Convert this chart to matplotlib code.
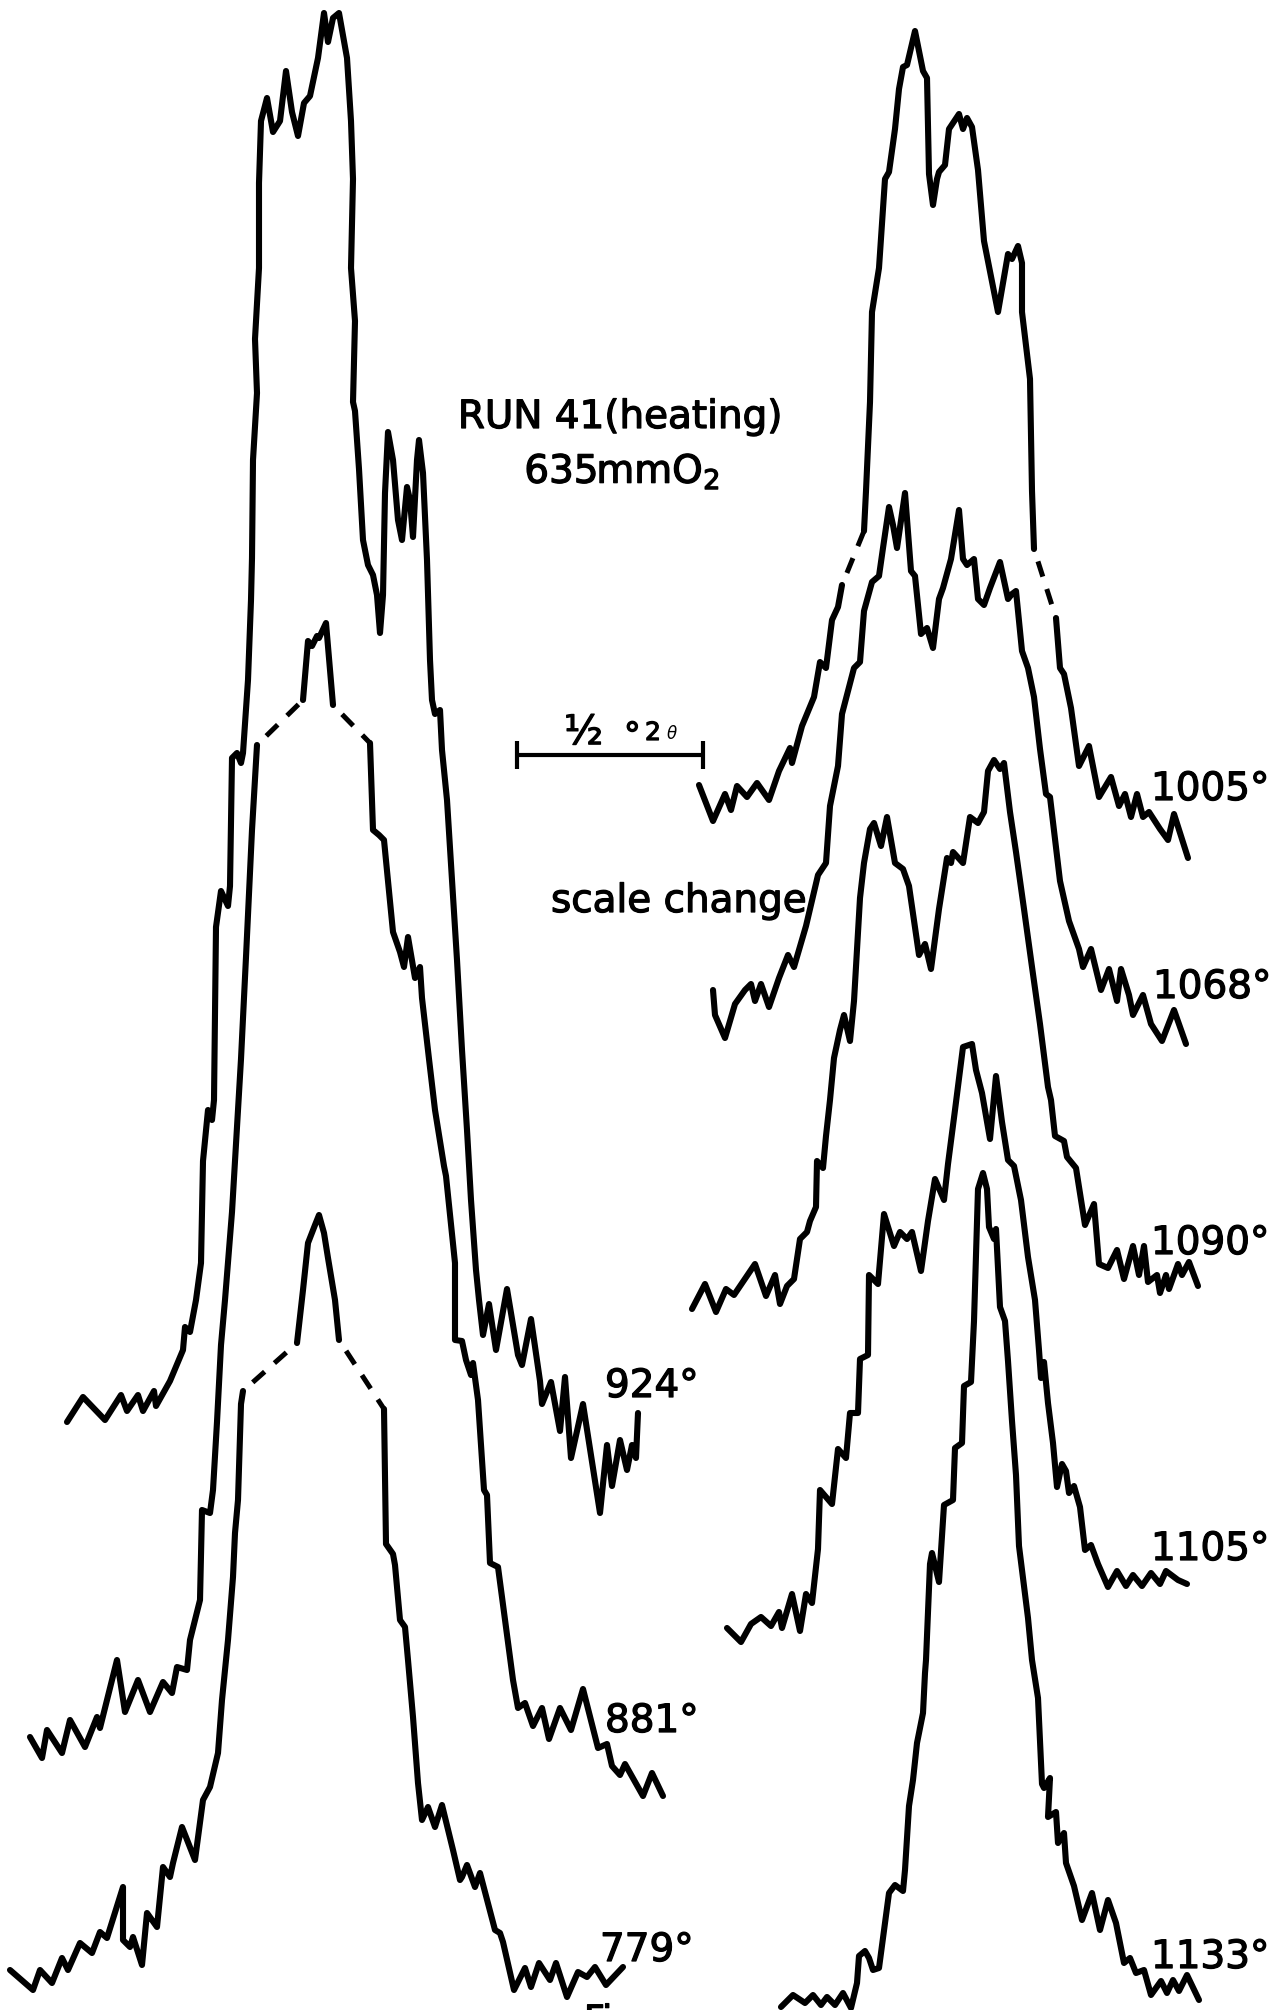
import matplotlib
matplotlib.use("Agg")
import matplotlib.pyplot as plt
import matplotlib.patheffects as pe

plt.rcParams['font.family'] = ['DejaVu Sans']
plt.rcParams['mathtext.fontset'] = 'dejavusans'

# recorder traces: x across the page, y down the page
# left column
x_924 = [67, 83, 105, 121, 127, 138, 143, 154, 156, 170, 183, 185, 190, 196, 201, 203, 208, 212, 214, 216,
         221, 228, 230, 232, 237, 241, 243, 248, 251, 252, 253, 257, 255, 259, 259, 261, 267, 273, 280, 286,
         292, 298, 304, 310, 318, 324, 328, 333, 339, 347, 351, 353, 351, 355, 353, 355, 359, 363, 368, 373,
         377, 380, 383, 385, 388, 393, 398, 402, 407, 410, 413, 417, 419, 423, 427, 430, 432, 435, 440, 442,
         447, 452, 457, 462, 467, 471, 476, 479, 483, 489, 496, 507, 518, 522, 531, 540, 542, 551, 560, 565,
         571, 583, 600, 607, 612, 620, 627, 632, 636, 638]
y_924 = [1422, 1397, 1420, 1395, 1411, 1395, 1411, 1391, 1406, 1381, 1350, 1327, 1332, 1300, 1263, 1161, 1110, 1120, 1100, 927,
         891, 906, 886, 758, 753, 763, 753, 680, 600, 558, 460, 393, 339, 268, 183, 121, 98, 132, 121, 71,
         112, 136, 103, 96, 58, 13, 42, 18, 13, 58, 121, 179, 268, 321, 402, 411, 469, 540, 565, 575,
         595, 633, 595, 493, 432, 460, 520, 540, 487, 500, 537, 460, 440, 473, 560, 660, 700, 714, 710, 750,
         800, 880, 960, 1050, 1130, 1200, 1270, 1300, 1335, 1304, 1350, 1289, 1355, 1365, 1319, 1381, 1404, 1382, 1431, 1377,
         1458, 1404, 1513, 1445, 1486, 1440, 1470, 1445, 1458, 1413]

x_881_l = [30, 42, 47, 62, 70, 85, 97, 100, 117, 125, 138, 150, 163, 172, 177, 187, 190, 200, 202, 210,
           213, 217, 221, 225, 232, 241, 246, 252, 257]
y_881_l = [1737, 1758, 1730, 1753, 1720, 1747, 1717, 1728, 1660, 1712, 1680, 1712, 1682, 1693, 1667, 1670, 1640, 1600, 1510, 1513,
           1490, 1422, 1345, 1300, 1212, 1059, 957, 830, 745]
x_881_top = [303, 308, 312, 317, 319, 326, 333]
y_881_top = [700, 641, 646, 636, 638, 623, 705]
x_881_r = [370, 373, 379, 384, 388, 393, 400, 404, 408, 415, 420, 422, 429, 435, 444, 446, 455, 455, 462, 466,
           471, 473, 478, 484, 487, 490, 498, 513, 518, 525, 533, 542, 549, 560, 571, 583, 598, 607, 612, 620,
           625, 643, 652, 663]
y_881_r = [743, 830, 835, 840, 881, 932, 952, 967, 937, 978, 967, 998, 1059, 1110, 1166, 1176, 1263, 1340, 1341, 1360,
           1375, 1363, 1400, 1490, 1495, 1563, 1567, 1680, 1708, 1703, 1726, 1708, 1739, 1708, 1730, 1689, 1748, 1744, 1766, 1775,
           1764, 1796, 1773, 1796]

x_779_l = [10, 33, 40, 52, 62, 68, 80, 92, 100, 107, 123, 123, 130, 133, 142, 147, 152, 157, 163, 170,
           173, 182, 195, 203, 210, 218, 222, 228, 233, 235, 238, 241, 243]
y_779_l = [1970, 1990, 1970, 1983, 1958, 1970, 1943, 1953, 1932, 1938, 1887, 1940, 1947, 1937, 1965, 1913, 1920, 1927, 1867, 1877,
           1863, 1827, 1860, 1800, 1787, 1753, 1700, 1640, 1577, 1533, 1500, 1404, 1391]
x_779_top = [297, 303, 308, 315, 319, 324, 328, 335, 339]
y_779_top = [1343, 1290, 1243, 1225, 1215, 1233, 1258, 1300, 1340]
x_779_r = [384, 386, 393, 395, 400, 405, 408, 413, 418, 422, 428, 435, 442, 453, 460, 462, 467, 475, 480, 495,
           500, 503, 514, 525, 531, 539, 550, 556, 567, 578, 587, 595, 606, 623]
y_779_r = [1409, 1544, 1554, 1565, 1620, 1627, 1660, 1717, 1783, 1820, 1807, 1827, 1805, 1850, 1880, 1877, 1865, 1887, 1873, 1930,
           1933, 1942, 1990, 1968, 1987, 1963, 1980, 1963, 1997, 1972, 1977, 1967, 1985, 1967]

# right column
x_1005_l = [699, 713, 725, 731, 737, 747, 757, 769, 779, 790, 792, 802, 814, 820, 826, 832, 838, 842]
y_1005_l = [785, 821, 794, 810, 786, 797, 783, 800, 771, 748, 763, 726, 697, 662, 668, 620, 607, 585]
x_1005_top = [864, 866, 870, 872, 879, 885, 889, 895, 899, 903, 907, 915, 923, 927, 929, 933, 937, 939, 945, 949,
              959, 963, 967, 972, 978, 984, 998, 1008, 1012, 1018, 1022, 1022, 1030, 1032, 1034]
y_1005_top = [531, 491, 402, 312, 268, 179, 172, 129, 89, 67, 65, 31, 71, 78, 174, 205, 179, 172, 165, 129,
              114, 129, 118, 127, 170, 241, 312, 254, 259, 246, 263, 312, 379, 491, 549]
x_1005_r = [1056, 1060, 1064, 1071, 1079, 1089, 1099, 1111, 1119, 1125, 1131, 1137, 1143, 1149, 1160, 1168, 1174, 1188]
y_1005_r = [618, 668, 674, 708, 766, 746, 797, 777, 806, 794, 817, 794, 817, 812, 829, 840, 814, 858]

x_1068 = [713, 715, 725, 735, 745, 751, 755, 761, 769, 779, 788, 794, 806, 818, 826, 830, 838, 842, 848, 854,
          860, 864, 872, 879, 883, 889, 893, 897, 905, 911, 915, 921, 927, 933, 939, 943, 951, 959, 963, 967,
          974, 978, 984, 990, 1000, 1008, 1012, 1016, 1022, 1028, 1034, 1040, 1046, 1050, 1060, 1069, 1079, 1083, 1091, 1101,
          1109, 1117, 1121, 1129, 1133, 1143, 1151, 1162, 1174, 1186]
y_1068 = [990, 1015, 1038, 1004, 990, 984, 1001, 984, 1007, 978, 955, 967, 926, 875, 863, 806, 766, 714, 691, 668,
          662, 611, 582, 576, 548, 507, 525, 548, 493, 571, 576, 634, 628, 648, 599, 588, 559, 510, 559, 565,
          559, 599, 605, 588, 562, 599, 594, 591, 651, 668, 697, 749, 794, 797, 881, 921, 949, 967, 949, 990,
          969, 1001, 969, 995, 1015, 995, 1024, 1041, 1010, 1044]

x_1090 = [692, 705, 716, 726, 734, 755, 766, 775, 780, 787, 794, 800, 807, 810, 816, 817, 823, 826, 830, 834,
          840, 844, 850, 854, 860, 864, 870, 874, 881, 887, 895, 903, 909, 919, 925, 931, 939, 947, 951, 953,
          963, 970, 978, 984, 988, 994, 1000, 1004, 1010, 1016, 1024, 1032, 1040, 1048, 1051, 1055, 1064, 1067, 1076, 1085,
          1094, 1099, 1108, 1117, 1124, 1133, 1139, 1144, 1148, 1157, 1160, 1166, 1169, 1178, 1182, 1189, 1198]
y_1090 = [1309, 1284, 1312, 1289, 1295, 1264, 1296, 1275, 1304, 1286, 1279, 1239, 1232, 1221, 1207, 1161, 1168, 1136, 1100, 1058,
          1030, 1015, 1041, 1001, 898, 863, 829, 823, 846, 817, 863, 869, 886, 955, 944, 969, 909, 858, 863, 852,
          863, 817, 823, 812, 771, 760, 769, 763, 812, 852, 909, 967, 1024, 1087, 1100, 1136, 1141, 1157, 1168, 1225,
          1204, 1264, 1268, 1250, 1279, 1246, 1275, 1246, 1282, 1275, 1293, 1275, 1289, 1264, 1275, 1262, 1286]

x_1105 = [727, 741, 751, 761, 771, 779, 782, 792, 800, 806, 812, 818, 820, 832, 838, 846, 850, 858, 860, 868,
          869, 878, 884, 894, 900, 907, 912, 921, 928, 935, 944, 948, 955, 963, 972, 976, 982, 990, 996, 1002,
          1008, 1014, 1021, 1028, 1035, 1039, 1041, 1044, 1048, 1053, 1057, 1062, 1066, 1069, 1074, 1080, 1085, 1091, 1098, 1108,
          1117, 1126, 1133, 1142, 1151, 1160, 1166, 1178, 1187]
y_1105 = [1628, 1642, 1624, 1617, 1626, 1612, 1628, 1594, 1631, 1594, 1603, 1549, 1490, 1504, 1449, 1458, 1413, 1413, 1359, 1355,
          1275, 1284, 1214, 1246, 1232, 1239, 1232, 1271, 1221, 1179, 1200, 1164, 1110, 1047, 1044, 1070, 1093, 1139, 1076, 1122,
          1160, 1166, 1200, 1257, 1300, 1350, 1378, 1362, 1403, 1443, 1487, 1464, 1471, 1493, 1486, 1507, 1550, 1545, 1564, 1587,
          1571, 1586, 1575, 1586, 1573, 1584, 1571, 1580, 1584]

x_1133 = [781, 793, 805, 813, 821, 827, 835, 843, 851, 857, 859, 865, 869, 873, 879, 885, 889, 895, 903, 905,
          909, 913, 917, 923, 925, 926, 930, 932, 939, 944, 953, 955, 962, 964, 971, 974, 978, 983, 987, 989,
          994, 996, 1000, 1005, 1008, 1012, 1016, 1019, 1028, 1032, 1038, 1042, 1044, 1050, 1048, 1056, 1058, 1064, 1066, 1074,
          1082, 1092, 1100, 1108, 1116, 1124, 1130, 1136, 1144, 1151, 1161, 1167, 1173, 1179, 1187, 1199]
y_1133 = [2007, 1995, 2003, 1995, 2005, 1997, 2005, 1993, 2008, 1983, 1956, 1951, 1958, 1970, 1968, 1923, 1893, 1885, 1891, 1870,
          1806, 1780, 1743, 1713, 1673, 1660, 1564, 1553, 1582, 1505, 1500, 1448, 1443, 1386, 1382, 1321, 1189, 1173, 1189, 1227,
          1239, 1229, 1307, 1321, 1361, 1421, 1475, 1546, 1618, 1660, 1698, 1784, 1788, 1778, 1817, 1812, 1843, 1833, 1863, 1886,
          1920, 1893, 1930, 1900, 1923, 1963, 1958, 1973, 1970, 1995, 1981, 1993, 1980, 1991, 1975, 2000]

temps = ['924°', '881°', '779°', '1005°', '1068°', '1090°', '1105°', '1133°']

fig = plt.figure(figsize=(12.74, 20.10), dpi=100, facecolor='white')
ax = fig.add_axes([0, 0, 1, 1])
ax.set_xlim(0, 1274)
ax.set_ylim(2010, 0)
ax.axis('off')

LW = 4.4
# lettering was inked a little heavier than the regular face
ink = [pe.withStroke(linewidth=0.9, foreground='black')]


def trace(xs, ys):
    ax.plot(xs, ys, color='black', lw=LW, solid_joinstyle='round', solid_capstyle='round')


def bridge(xa, ya, xb, yb):
    # dashed link where the pen went off scale
    ax.plot([xa[-1], xb[0]], [ya[-1], yb[0]], color='black', lw=3.6,
            linestyle=(3.2, (3.2, 2.6)), dash_capstyle='butt')


trace(x_924, y_924)

trace(x_881_l, y_881_l)
trace(x_881_top, y_881_top)
trace(x_881_r, y_881_r)
bridge(x_881_l, y_881_l, x_881_top, y_881_top)
bridge(x_881_top, y_881_top, x_881_r, y_881_r)

trace(x_779_l, y_779_l)
trace(x_779_top, y_779_top)
trace(x_779_r, y_779_r)
bridge(x_779_l, y_779_l, x_779_top, y_779_top)
bridge(x_779_top, y_779_top, x_779_r, y_779_r)

trace(x_1005_l, y_1005_l)
trace(x_1005_top, y_1005_top)
trace(x_1005_r, y_1005_r)
bridge(x_1005_l, y_1005_l, x_1005_top, y_1005_top)
bridge(x_1005_top, y_1005_top, x_1005_r, y_1005_r)

trace(x_1068, y_1068)
trace(x_1090, y_1090)
trace(x_1105, y_1105)
trace(x_1133, y_1133)

# temperature labels at the tail of each trace
label_pos = [(605, 1397), (605, 1732), (600, 1961),
             (1151, 800), (1153, 998), (1151, 1254), (1151, 1560), (1151, 1968)]
for t, (lx, ly) in zip(temps, label_pos):
    ax.text(lx, ly, t, fontsize=28, ha='left', va='baseline', path_effects=ink)

ax.text(620, 428, 'RUN 41(heating)', fontsize=28, ha='center', va='baseline', path_effects=ink)
ax.text(622, 483, '635mmO$_\\mathregular{2}$', fontsize=28, ha='center', va='baseline', path_effects=ink)

ax.text(551, 912, 'scale change', fontsize=28, ha='left', va='baseline', path_effects=ink)

# half-degree scale bar
ax.plot([517, 703], [755, 755], color='black', lw=3.0, solid_capstyle='butt')
ax.plot([517, 517], [741, 769], color='black', lw=3.0, solid_capstyle='butt')
ax.plot([703, 703], [741, 769], color='black', lw=3.0, solid_capstyle='butt')
ax.text(564, 744, '½', fontsize=29, ha='left', va='baseline', path_effects=ink)
ax.text(624, 746, '°', fontsize=24, ha='left', va='baseline', path_effects=ink)
ax.text(645, 740, '2', fontsize=18, ha='left', va='baseline', path_effects=ink)
ax.text(667, 739, 'θ', fontsize=12, ha='left', va='baseline', style='italic')

ax.text(584, 2004, 'Fig.', fontsize=26, ha='left', va='top', path_effects=ink)

fig.savefig('out.png', dpi=100, facecolor='white')
